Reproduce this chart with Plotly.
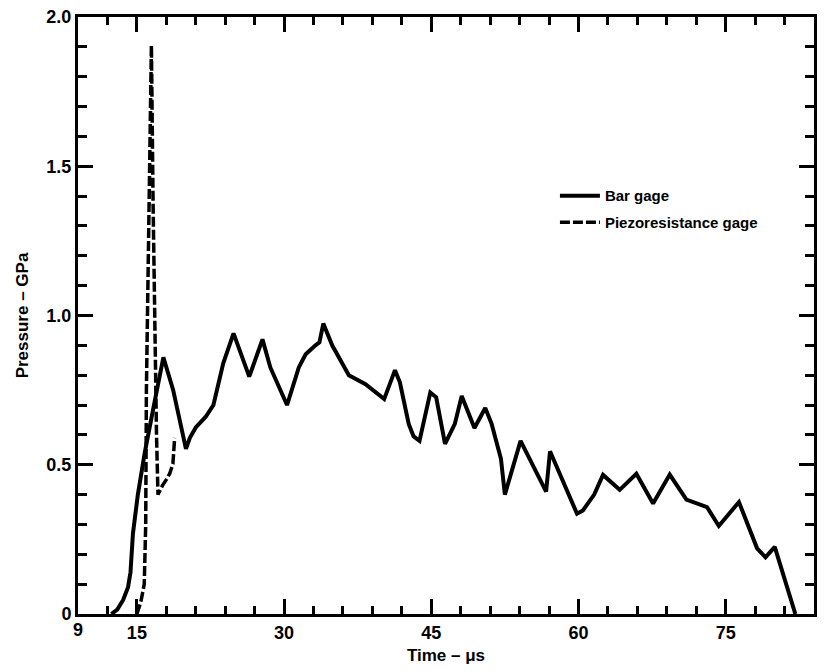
import plotly.graph_objects as go

# Bar gage record (time in microseconds, pressure in GPa)
bar_time = [12.4, 13.0, 13.6, 14.1, 14.35, 14.6, 15.1, 15.8, 16.8, 17.7,
            18.7, 20.0, 20.4, 21.0, 22.0, 22.8, 23.8, 24.85, 26.45, 27.8,
            28.6, 30.3, 31.5, 32.2, 33.2, 33.6, 34.0, 34.9, 36.6, 38.3,
            40.2, 41.3, 41.8, 42.7, 43.2, 43.8, 44.9, 45.5, 46.4, 47.4,
            48.1, 49.4, 50.5, 51.15, 52.1, 52.5, 54.1, 56.7, 57.1, 59.85,
            60.45, 61.6, 62.5, 64.2, 65.9, 67.6, 69.3, 71.0, 73.1, 74.3,
            76.35, 78.2, 79.06, 80.0, 82.1]
bar_pressure = [0.0, 0.015, 0.047, 0.09, 0.14, 0.27, 0.40, 0.54, 0.71, 0.86,
                0.75, 0.553, 0.59, 0.625, 0.66, 0.70, 0.84, 0.94, 0.795, 0.92,
                0.826, 0.70, 0.826, 0.87, 0.90, 0.91, 0.973, 0.90, 0.80, 0.77,
                0.72, 0.817, 0.776, 0.637, 0.595, 0.58, 0.742, 0.726, 0.57, 0.637,
                0.73, 0.623, 0.69, 0.637, 0.52, 0.40, 0.58, 0.41, 0.545, 0.336,
                0.347, 0.40, 0.466, 0.416, 0.47, 0.37, 0.467, 0.383, 0.358, 0.295,
                0.375, 0.22, 0.19, 0.225, 0.0]

# Piezoresistance gage record
piezo_time = [15.0, 15.4, 15.75, 15.9, 15.97, 16.2, 16.48, 16.65, 16.9, 17.0,
              17.15, 17.6, 18.0, 18.34, 18.67, 18.85]
piezo_pressure = [0.0, 0.04, 0.10, 0.30, 0.75, 1.38, 1.905, 1.38, 0.75, 0.6,
                  0.40, 0.43, 0.45, 0.47, 0.503, 0.59]

x_range = [9, 84]
x_major_step = 15
x_minor_step = 3
y_range = [0, 2.0]
y_major_step = 0.5
y_minor_step = 0.1

FONT = "Liberation Sans Narrow, Liberation Sans, Arial, sans-serif"
tick_font = dict(family=FONT, size=18, color="black", weight="bold")
title_font = dict(family=FONT, size=17, color="black", weight="bold")

fig = go.Figure()
fig.add_trace(go.Scatter(
    x=bar_time, y=bar_pressure, mode="lines", name="Bar gage",
    legendgroup="bar",
    line=dict(color="black", width=4),
))
fig.add_trace(go.Scatter(
    x=piezo_time, y=piezo_pressure, mode="lines",
    name="Piezoresistance gage", legendgroup="piezo",
    line=dict(color="black", width=3.5, dash="10px,3px"),
))

frame = dict(
    showgrid=False, zeroline=False, showline=True, linecolor="black",
    linewidth=3, mirror="ticks", ticks="inside", tickcolor="black",
    tickwidth=3, ticklen=15, tickfont=tick_font,
)

fig.update_xaxes(
    range=x_range, tick0=0, dtick=x_major_step,
    minor=dict(ticks="inside", ticklen=8, tickwidth=2.5, tickcolor="black",
               dtick=x_minor_step),
    title=dict(text="Time – μs", standoff=8, font=title_font),
    **frame,
)
fig.update_yaxes(
    range=y_range, tick0=0, dtick=y_major_step,
    tickformat=".1f", labelalias={"0.0": "0"},
    minor=dict(ticks="inside", ticklen=9, tickwidth=2.5, tickcolor="black",
               dtick=y_minor_step),
    title=dict(text="Pressure – GPa", standoff=14, font=title_font),
    **frame,
)

# Origin label of the time axis sits at the left corner of the frame
fig.add_annotation(
    x=x_range[0], y=0, xref="x", yref="paper", text=str(x_range[0]),
    showarrow=False, yanchor="top", yshift=-4, font=tick_font,
)

fig.update_layout(
    width=824, height=672,
    margin=dict(l=78, r=7, t=15, b=58),
    paper_bgcolor="white", plot_bgcolor="white",
    showlegend=True,
    legend=dict(
        x=0.648, y=0.728, xanchor="left", yanchor="top",
        bgcolor="rgba(0,0,0,0)", borderwidth=0,
        font=dict(family=FONT, size=15, color="black", weight="bold"),
        tracegroupgap=4, itemwidth=40,
    ),
)

fig.write_html("out.html")
